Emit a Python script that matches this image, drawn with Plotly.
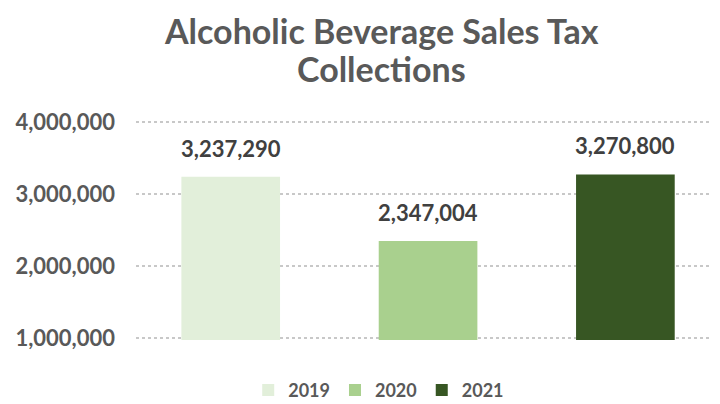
import plotly.graph_objects as go

series = ["2019", "2020", "2021"]
values = [3237290, 2347004, 3270800]
colors = ["#e2efda", "#a9d08e", "#375623"]
tick_vals = [1000000, 2000000, 3000000, 4000000]
tick_text = ["1,000,000", "2,000,000", "3,000,000", "4,000,000"]
title_lines = ["Alcoholic Beverage Sales Tax", "Collections"]

FONT = "Lato"
fig = go.Figure()
for i, (name, v, c) in enumerate(zip(series, values, colors)):
    fig.add_trace(go.Bar(
        x=[name], y=[v], name=name, marker=dict(color=c, line=dict(width=0)),
        width=0.5,
    ))
    fig.add_annotation(x=i, y=v, text=f"{v:,}", showarrow=False,
                       yanchor="bottom", yshift=13,
                       font=dict(family=FONT, size=22, color="#404040", weight="bold"))

fig.update_layout(
    width=720, height=404, barmode="overlay",
    plot_bgcolor="white", paper_bgcolor="white",
    margin=dict(l=128, r=0, t=112, b=72),
    showlegend=True,
    legend=dict(orientation="h", x=0.41, xanchor="center", y=-0.145, yanchor="top",
                font=dict(family=FONT, size=18, color="#595959", weight="bold"),
                itemwidth=30, traceorder="normal"),
    xaxis=dict(type="category", categoryorder="array", categoryarray=series,
               range=[-0.48, 2.52],
               showticklabels=False, showgrid=False, zeroline=False, showline=False),
    yaxis=dict(range=[975000, 4025000], tickvals=tick_vals, ticktext=tick_text,
               tickfont=dict(family=FONT, size=22, color="#595959", weight="bold"),
               showgrid=True, gridcolor="#c8c8c8", griddash="dot", gridwidth=1.5,
               zeroline=False, showline=False, ticklabelstandoff=20),
)
fig.add_annotation(text=title_lines[0], xref="paper", yref="paper", x=0.415, y=1,
                   xanchor="center", yanchor="top", yshift=112, showarrow=False,
                   font=dict(family=FONT, size=34, color="#595959", weight="bold"))
fig.add_annotation(text=title_lines[1], xref="paper", yref="paper", x=0.415, y=1,
                   xanchor="center", yanchor="middle", yshift=52, showarrow=False,
                   font=dict(family=FONT, size=34, color="#595959", weight="bold"))
fig.write_html("out.html")
